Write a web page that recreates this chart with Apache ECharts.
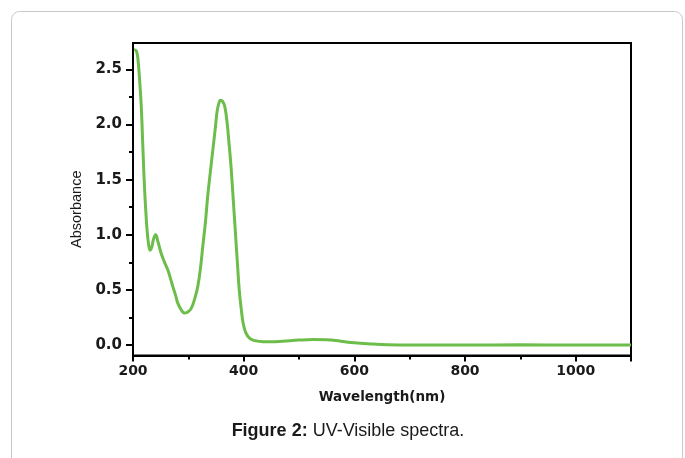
<!DOCTYPE html>
<html>
<head>
<meta charset="utf-8">
<title>UV-Visible spectra</title>
<script src="https://cdn.jsdelivr.net/npm/echarts@6/dist/echarts.min.js"></script>
<style>
  html, body { margin: 0; padding: 0; background: #fff; }
  #chart { width: 685px; height: 458px; }
</style>
</head>
<body>
<div id="chart"></div>
<script>
// wavelength (nm) and absorbance
const wavelength = [202, 206, 209, 212, 215, 218, 221, 225, 228, 231, 234, 237, 241, 245,
  251, 257, 263, 268, 272, 277, 281, 287, 293, 299, 305, 311, 317, 322, 326, 331, 335,
  340, 345, 349, 352, 355, 358, 362, 366, 370, 373, 377, 380, 383, 386, 389, 392, 396,
  399, 404, 411, 420, 435, 450, 470, 500, 525, 550, 575, 600, 630, 660, 700, 800, 900,
  1000, 1100];
const absorbance = [2.68, 2.67, 2.59, 2.40, 2.16, 1.77, 1.41, 1.07, 0.92, 0.86, 0.89, 0.96,
  1.00, 0.94, 0.83, 0.75, 0.68, 0.60, 0.53, 0.45, 0.38, 0.32, 0.29, 0.30, 0.33, 0.41,
  0.53, 0.70, 0.89, 1.12, 1.35, 1.58, 1.80, 1.98, 2.12, 2.19, 2.22, 2.21, 2.16, 2.02,
  1.86, 1.63, 1.41, 1.18, 0.95, 0.72, 0.50, 0.31, 0.20, 0.11, 0.06, 0.04, 0.03, 0.03,
  0.035, 0.045, 0.05, 0.048, 0.035, 0.02, 0.01, 0.003, 0.0, 0.0, 0.002, 0.0, 0.0];

const yMajorTicks = [0, 0.5, 1.0, 1.5, 2.0, 2.5];
const yMinorTicks = [0.25, 0.75, 1.25, 1.75, 2.25];

const chart = echarts.init(document.getElementById('chart'));

const labelFont = 'DejaVu Sans, Verdana, sans-serif';

const option = {
  backgroundColor: '#fff',
  animation: false,
  grid: {
    left: 133,
    right: 54,
    top: 43,
    bottom: 102.5,
    show: true,
    borderColor: '#000',
    borderWidth: 2
  },
  xAxis: {
    type: 'value',
    min: 200,
    max: 1100,
    interval: 200,
    name: 'Wavelength(nm)',
    nameLocation: 'middle',
    nameGap: 35,
    nameTextStyle: {
      fontFamily: labelFont,
      fontWeight: 'bold',
      fontSize: 13.5,
      color: '#1a1a1a'
    },
    axisLine: { onZero: false, lineStyle: { color: '#000', width: 2 } },
    axisTick: { length: 6, lineStyle: { color: '#000', width: 2 } },
    minorTick: { show: true, splitNumber: 2, length: 4, lineStyle: { color: '#000', width: 2 } },
    axisLabel: {
      margin: 9,
      showMaxLabel: false,
      formatter: (v) => String(v),
      fontFamily: labelFont,
      fontWeight: 'bold',
      fontSize: 14,
      color: '#1a1a1a'
    },
    splitLine: { show: false }
  },
  yAxis: [
    {
      type: 'value',
      min: -0.095,
      max: 2.74,
      name: 'Absorbance',
      nameLocation: 'middle',
      nameGap: 46,
      nameTextStyle: {
        fontFamily: 'Liberation Sans, Arial, sans-serif',
        fontSize: 14.5,
        color: '#1a1a1a',
        padding: [0, 20, 0, 0]
      },
      axisLine: { onZero: false, lineStyle: { color: '#000', width: 2 } },
      axisTick: { length: 7, customValues: yMajorTicks, lineStyle: { color: '#000', width: 2 } },
      axisLabel: {
        customValues: yMajorTicks,
        margin: 11,
        formatter: (v) => v.toFixed(1),
        fontFamily: labelFont,
        fontWeight: 'bold',
        fontSize: 15,
        color: '#1a1a1a'
      },
      splitLine: { show: false }
    },
    {
      // only here to draw the short minor ticks
      type: 'value',
      position: 'left',
      min: -0.095,
      max: 2.74,
      axisLine: { show: false },
      axisTick: { length: 4, customValues: yMinorTicks, lineStyle: { color: '#000', width: 2 } },
      axisLabel: { show: false },
      splitLine: { show: false }
    }
  ],
  series: [
    {
      type: 'line',
      data: wavelength.map((w, i) => [w, absorbance[i]]),
      smooth: 0.4,
      showSymbol: false,
      lineStyle: { color: '#6cbd4a', width: 3 },
      z: 3
    }
  ],
  graphic: [
    {
      type: 'rect',
      shape: { x: 11.5, y: 11.5, width: 671, height: 470, r: 8 },
      style: { fill: 'none', stroke: '#c9c9c9', lineWidth: 1 },
      silent: true
    },
    {
      type: 'text',
      x: 348,
      y: 431,
      style: {
        text: '{b|Figure 2:} UV-Visible spectra.',
        fontFamily: 'Liberation Sans, Arial, sans-serif',
        fontSize: 18,
        fill: '#1a1a1a',
        align: 'center',
        verticalAlign: 'middle',
        rich: {
          b: {
            fontFamily: 'Liberation Sans, Arial, sans-serif',
            fontSize: 18,
            fontWeight: 'bold',
            fill: '#1a1a1a'
          }
        }
      }
    }
  ]
};

chart.setOption(option);
</script>
</body>
</html>
